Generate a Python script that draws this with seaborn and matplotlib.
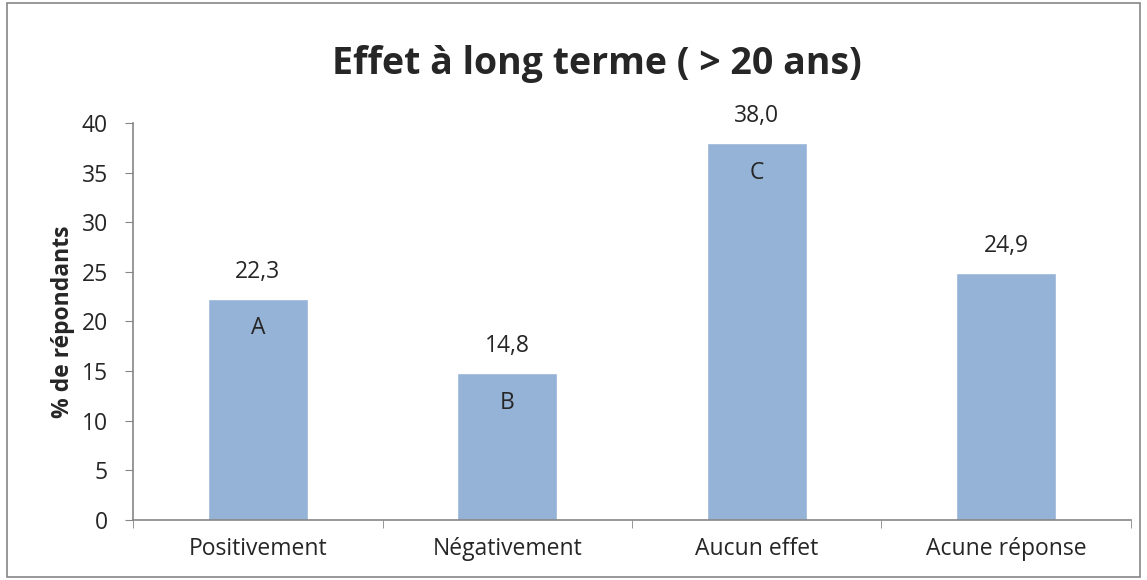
import numpy as np
import pandas as pd
import matplotlib.pyplot as plt
import seaborn as sns
from matplotlib.patches import Rectangle

categories = ['Positivement', 'Négativement', 'Aucun effet', 'Acune réponse']
values = [22.3, 14.8, 38.0, 24.9]
letters = ['A', 'B', 'C', '']

df = pd.DataFrame({'cat': categories, 'pct': values})

sns.set_style('white')
plt.rcParams['font.family'] = ['Open Sans', 'DejaVu Sans']

fig = plt.figure(figsize=(11.47, 5.80), dpi=100)
ax = fig.add_axes([0.116, 0.1034, 0.87, 0.6846])

sns.barplot(data=df, x='cat', y='pct', color='#95B3D7', saturation=1, width=0.4, ax=ax)

# value above each bar, letter inside near the top
for i, (v, l) in enumerate(zip(values, letters)):
    ax.text(i, v + 2.7, f'{v:.1f}'.replace('.', ','), ha='center', va='center', fontsize=16.5)
    if l:
        ax.text(i, v - 3.0, l, ha='center', va='center', fontsize=16.5)

ax.set_xlim(-0.5, 3.5)
ax.set_ylim(0, 40)
ax.set_yticks(range(0, 41, 5))
ax.set_xlabel('')
ax.set_ylabel('% de répondants', fontsize=16.5, fontweight='bold', labelpad=5)

fig.text(0.52, 0.889, 'Effet à long terme ( > 20 ans)', fontsize=27, fontweight='bold',
         ha='center', va='center')

for s in ['top', 'right']:
    ax.spines[s].set_visible(False)
for s in ['left', 'bottom']:
    ax.spines[s].set_color('#868686')
    ax.spines[s].set_linewidth(1.2)

ax.tick_params(axis='y', which='major', direction='out', length=6, color='#868686', labelsize=16.5, left=True, pad=12)
ax.tick_params(axis='x', which='major', length=0, labelsize=16.5, pad=12)
ax.set_xticks(np.arange(-0.5, 4, 1), minor=True)
ax.tick_params(axis='x', which='minor', direction='out', length=6, color='#868686', bottom=True)

fig.patches.append(Rectangle((0.006, 0.006), 0.988, 0.988, transform=fig.transFigure,
                             fill=False, edgecolor='#868686', linewidth=1.2))

fig.savefig('out.png', dpi=100)
